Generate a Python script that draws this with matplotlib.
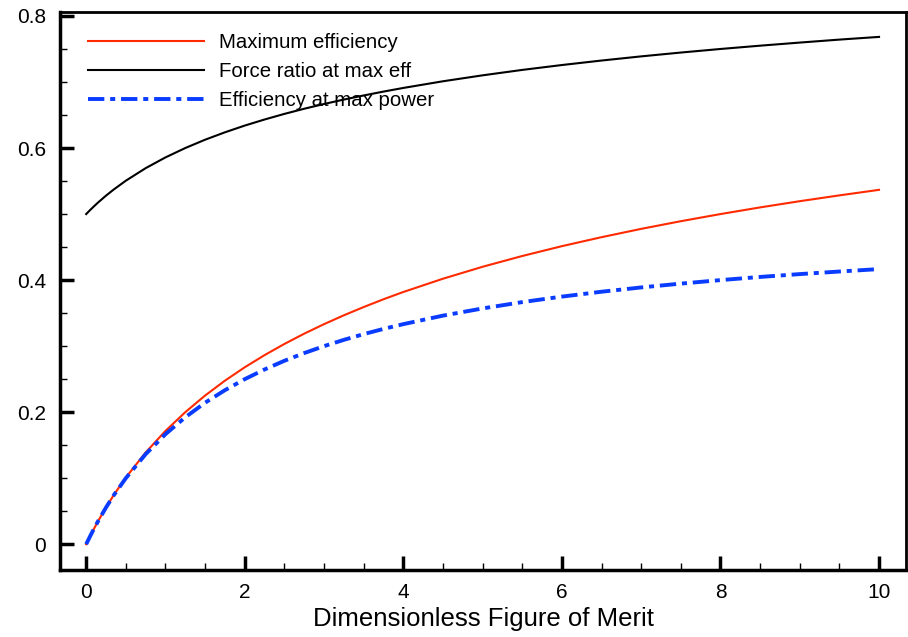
import matplotlib
matplotlib.use("Agg")
import matplotlib.pyplot as plt
from matplotlib.ticker import MultipleLocator

plt.rcParams['font.family'] = ['Liberation Sans', 'DejaVu Sans']

zt = [0, 0.05, 0.1, 0.15, 0.25, 0.35, 0.5, 0.75, 1, 1.25, 1.5, 1.75, 2, 2.25, 2.5, 2.75,
      3, 3.25, 3.5, 3.75, 4, 4.5, 5, 5.5, 6, 6.5, 7, 7.5, 8, 8.5, 9, 9.5, 10]
max_eff = [0, 0.0122, 0.0238, 0.0349, 0.0557, 0.0749, 0.1010, 0.1390, 0.1716, 0.2000,
           0.2252, 0.2477, 0.2680, 0.2864, 0.3033, 0.3189, 0.3333, 0.3467, 0.3592, 0.3710,
           0.3820, 0.4021, 0.4202, 0.4365, 0.4514, 0.4650, 0.4776, 0.4892, 0.5000, 0.5101,
           0.5195, 0.5283, 0.5367]
force_ratio = [0.5, 0.5061, 0.5119, 0.5175, 0.5279, 0.5374, 0.5505, 0.5695, 0.5858, 0.6000,
               0.6126, 0.6238, 0.6340, 0.6432, 0.6517, 0.6595, 0.6667, 0.6734, 0.6796, 0.6855,
               0.6910, 0.7011, 0.7101, 0.7183, 0.7257, 0.7325, 0.7388, 0.7446, 0.7500, 0.7550,
               0.7597, 0.7642, 0.7683]
eff_max_power = [0, 0.0122, 0.0238, 0.0349, 0.0556, 0.0745, 0.1000, 0.1364, 0.1667, 0.1923,
                 0.2143, 0.2333, 0.2500, 0.2647, 0.2778, 0.2895, 0.3000, 0.3095, 0.3182, 0.3261,
                 0.3333, 0.3462, 0.3571, 0.3667, 0.3750, 0.3824, 0.3889, 0.3947, 0.4000, 0.4048,
                 0.4091, 0.4130, 0.4167]
labels = ["Maximum efficiency", "Force ratio at max eff", "Efficiency at max power"]

fig = plt.figure(figsize=(9.08, 6.37), dpi=100)
ax = fig.add_axes([60/908, 1 - 570/637, (906-60)/908, (570-12)/637])

ax.plot(zt, max_eff, color='#ff2a00', lw=1.5, label=labels[0])
ax.plot(zt, force_ratio, color='black', lw=1.5, label=labels[1])
ax.plot(zt, eff_max_power, color='#0a3cff', lw=2.8, dashes=(4.2, 1.5, 1.3, 1.5),
        label=labels[2])

ax.set_xlim(-0.33, 10.34)
ax.set_ylim(-0.039, 0.806)
ax.xaxis.set_major_locator(MultipleLocator(2))
ax.xaxis.set_minor_locator(MultipleLocator(0.5))
ax.yaxis.set_minor_locator(MultipleLocator(0.05))
ax.set_yticks([0, 0.2, 0.4, 0.6, 0.8])
ax.set_yticklabels(['0', '0.2', '0.4', '0.6', '0.8'])
ax.tick_params(which='both', direction='in', top=False, right=False, labelsize=15)
ax.tick_params(which='major', length=10, width=2.5)
ax.tick_params(which='minor', length=5, width=1)
ax.tick_params(axis='x', pad=9)
ax.tick_params(axis='y', pad=10)
for side in ['left', 'bottom']:
    ax.spines[side].set_linewidth(2.5)
for side in ['right', 'top']:
    ax.spines[side].set_linewidth(2)

ax.set_xlabel("Dimensionless Figure of Merit", fontsize=18.5, labelpad=4)

ax.legend(loc='upper left', bbox_to_anchor=(0.0114, 0.9945), frameon=False, fontsize=14.7,
          handlelength=5.7, handletextpad=0.73, labelspacing=0.48)

fig.savefig("out.png", dpi=100)
